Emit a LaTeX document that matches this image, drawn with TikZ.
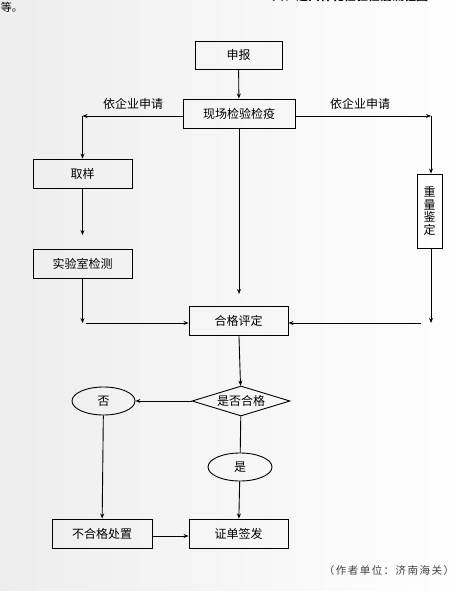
\documentclass[tikz,border=0pt]{standalone}
\usepackage{fontspec}
\setmainfont{Noto Sans CJK SC}
\usetikzlibrary{shapes.geometric,arrows.meta}
\begin{document}
\begin{tikzpicture}[x=1pt, y=-1pt, >={Stealth[length=5pt,width=4pt]}, font=\fontsize{12}{14}\selectfont]
        \tikzstyle{box}=[draw, line width=0.9pt, rectangle, minimum width=99pt, minimum height=29pt, inner sep=2pt, align=center];
        \tikzstyle{oval}=[draw, line width=0.9pt, ellipse, minimum width=63pt, minimum height=28pt, inner sep=0pt];
        \tikzstyle{link}=[line width=0.9pt];

        \useasboundingbox (0,0) rectangle (467,602);
        \shade[left color=gray!14, right color=white] (0,0) rectangle (467,590);

        % heading remains of the page
        \node[anchor=base, inner sep=0pt, font=\fontsize{12}{14}\bfseries] (title) at (350,1) {四、进口棉花检验检疫流程图};
        \node[inner sep=0pt, font=\fontsize{11}{13}\selectfont] (etc) at (12,7) {等。};

        \node[box, minimum width=87pt, minimum height=28pt] (report) at (238.5,55) {申报};
        \node[box, minimum width=112pt] (insp) at (239,113.5) {现场检验检疫};
        \node[box] (sample) at (82.5,173.5) {取样};
        \node[box] (lab) at (82.5,263.5) {实验室检测};
        \node[box, minimum width=25pt, minimum height=74pt, inner sep=0pt, font=\fontsize{12}{12.5}\selectfont] (weigh) at (429.5,211) {重\\量\\鉴\\定};
        \node[box] (eval) at (238.5,321) {合格评定};
        \node[draw, line width=0.9pt, diamond, aspect=3.3, inner sep=0pt, minimum width=98pt, minimum height=30pt] (check) at (241,401) {是否合格};
        \node[oval] (no) at (103.5,401) {否};
        \node[oval, minimum width=64pt] (yes) at (240,467) {是};
        \node[box, minimum width=100pt] (reject) at (102,533.5) {不合格处置};
        \node[box] (issue) at (238.5,533.5) {证单签发};

        \node (applyL) at (133,104) {依企业申请};
        \node (applyR) at (360,104) {依企业申请};
        \node[font=\fontsize{10.5}{12}\selectfont\addfontfeatures{LetterSpace=14}, text=gray!50!black] (note) at (389,571) {（作者单位：济南海关）};

        \coordinate (lbend) at (82.5,116);
        \coordinate (rbend) at (431,116);
        \coordinate (labin) at (82.5,235);
        \coordinate (lbot) at (82.5,323);
        \coordinate (evalin) at (239,294);
        \coordinate (rbot) at (431,323);
        \coordinate (rstart) at (421,323);

        \draw[link, ->] (report) -- (insp);
        \draw[link, ->] (insp.west |- lbend) -- (lbend);
        \draw[link, ->] (lbend) -- (sample);
        \draw[link, ->] (sample) -- (labin);
        \draw[link, ->] (lab) -- (lbot);
        \draw[link, ->] ([xshift=3pt]lbot) -- (lbot -| eval.west);
        \draw[link, ->] (insp) -- (evalin);
        \draw[link, ->] (insp.east |- rbend) -- (rbend);
        \draw[link, ->] (rbend) -- (weigh.north -| rbend);
        \draw[link, ->] (weigh.south -| rbot) -- (rbot);
        \draw[link, ->] (rstart) -- (rstart -| eval.east);
        \draw[link, ->] (eval) -- (check);
        \draw[link, ->] (check) -- (no);
        \draw[link, ->] (no) -- (reject);
        \draw[link] (check) -- (yes);
        \draw[link, ->] (yes) -- (issue);
        \draw[link, ->] (reject.east |- 0,536) -- (issue.west |- 0,536);
\end{tikzpicture}
\end{document}
